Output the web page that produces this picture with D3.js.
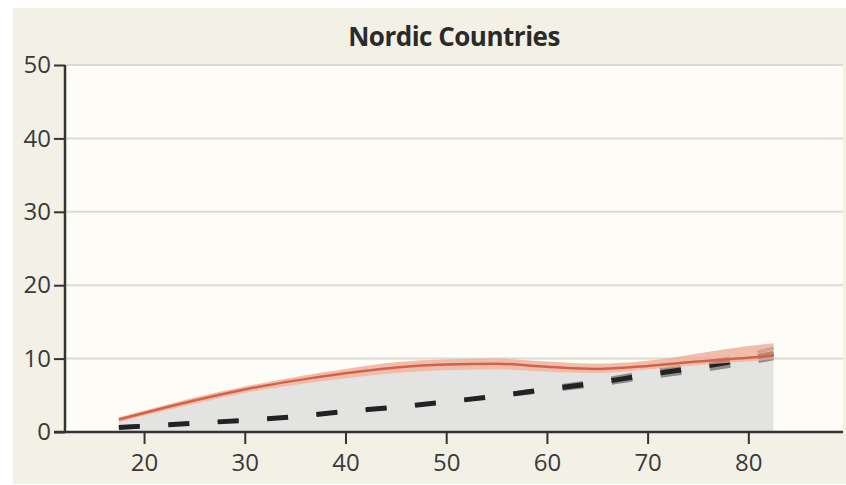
<!DOCTYPE html>
<html>
<head>
<meta charset="utf-8">
<script src="https://cdn.jsdelivr.net/npm/d3@7"></script>
<style>
  body { margin: 0; background: #fff; }
  svg { display: block; font-family: "Open Sans", "Lato", sans-serif; }
</style>
</head>
<body>
<div id="chart"></div>
<script>
// ages (years) and percentages
var ages       = [17.5, 20, 25, 30, 35, 40, 45, 50, 55, 60, 65, 70, 75, 80, 82.5];
var observed   = [1.7, 2.6, 4.3, 5.8, 7.0, 8.0, 8.8, 9.2, 9.3, 8.9, 8.6, 9.0, 9.6, 10.1, 10.4];
var obsLower   = [1.3, 2.2, 3.8, 5.3, 6.4, 7.3, 8.0, 8.4, 8.5, 8.2, 8.0, 8.5, 9.1, 9.6, 9.9];
var obsUpper   = [2.0, 2.9, 4.7, 6.2, 7.5, 8.6, 9.5, 9.9, 10.0, 9.6, 9.3, 9.7, 10.7, 11.7, 12.1];
var expected   = [0.6, 0.8, 1.2, 1.6, 2.1, 2.8, 3.4, 4.1, 4.9, 5.8, 6.7, 7.8, 8.8, 10.0, 10.7];
var expLower   = [0.6, 0.8, 1.2, 1.6, 2.1, 2.8, 3.4, 4.1, 4.8, 5.6, 6.4, 7.4, 8.3, 9.4, 10.0];
var expUpper   = [0.6, 0.8, 1.2, 1.6, 2.1, 2.8, 3.4, 4.1, 5.0, 6.0, 7.0, 8.2, 9.3, 10.6, 11.4];
var xTicks = [20, 30, 40, 50, 60, 70, 80];
var yTicks = [0, 10, 20, 30, 40, 50];
var title = "Nordic Countries";

var width = 846, height = 485;
var plot = {left: 65, right: 843, top: 65, bottom: 432};

var svg = d3.select("#chart").append("svg")
    .attr("width", width)
    .attr("height", height);

// panel backgrounds
svg.append("rect")
    .attr("x", 13).attr("y", 8)
    .attr("width", width - 13).attr("height", 476)
    .attr("fill", "#f3f1e5");
svg.append("rect")
    .attr("x", plot.left).attr("y", plot.top)
    .attr("width", plot.right - plot.left).attr("height", plot.bottom - plot.top)
    .attr("fill", "#fdfcf7");

var x = d3.scaleLinear().domain([12.15, 89.4]).range([plot.left, plot.right]);
var y = d3.scaleLinear().domain([0, 50]).range([plot.bottom, plot.top]);

// gridlines
svg.append("g").attr("class", "grid")
  .selectAll("line")
  .data(yTicks.filter(function(d) { return d > 0; }))
  .enter().append("line")
    .attr("x1", plot.left).attr("x2", plot.right)
    .attr("y1", function(d) { return y(d); })
    .attr("y2", function(d) { return y(d); })
    .attr("stroke", "#dcdad2")
    .attr("stroke-width", 2);

var rows = ages.map(function(a, i) {
    return {age: a, obs: observed[i], lo: obsLower[i], hi: obsUpper[i],
            exp: expected[i], elo: expLower[i], ehi: expUpper[i]};
});

var curve = d3.curveMonotoneX;

// gray area under observed curve
svg.append("path")
    .datum(rows)
    .attr("fill", "#e3e3e1")
    .attr("d", d3.area().curve(curve)
        .x(function(d) { return x(d.age); })
        .y0(y(0))
        .y1(function(d) { return y(d.lo); }));

// expected (dashed) with its band
var lineOf = function(key) {
    return d3.line().curve(curve)
        .x(function(d) { return x(d.age); })
        .y(function(d) { return y(d[key]); });
};
["elo", "ehi"].forEach(function(k) {
    svg.append("path")
        .datum(rows)
        .attr("fill", "none")
        .attr("stroke", "#8d8d8b")
        .attr("stroke-width", 3.5)
        .attr("stroke-dasharray", "21,28.5")
        .attr("d", lineOf(k));
});
svg.append("path")
    .datum(rows)
    .attr("fill", "none")
    .attr("stroke", "#222")
    .attr("stroke-width", 5)
    .attr("stroke-dasharray", "21,28.5")
    .attr("d", lineOf("exp"));

// observed band and line
svg.append("path")
    .datum(rows)
    .attr("fill", "#eca891")
    .attr("fill-opacity", 0.75)
    .attr("d", d3.area().curve(curve)
        .x(function(d) { return x(d.age); })
        .y0(function(d) { return y(d.lo); })
        .y1(function(d) { return y(d.hi); }));
svg.append("path")
    .datum(rows)
    .attr("fill", "none")
    .attr("stroke", "#d4624a")
    .attr("stroke-width", 2.5)
    .attr("d", lineOf("obs"));

// axes
var yAxis = svg.append("g")
    .attr("transform", "translate(" + plot.left + ",0)")
    .call(d3.axisLeft(y).tickValues(yTicks).tickSize(11).tickPadding(3));
var xAxis = svg.append("g")
    .attr("transform", "translate(0," + plot.bottom + ")")
    .call(d3.axisBottom(x).tickValues(xTicks).tickSize(12).tickPadding(10));

[yAxis, xAxis].forEach(function(ax) {
    ax.select(".domain").remove();
    ax.selectAll(".tick line").attr("stroke", "#333").attr("stroke-width", 2);
    ax.selectAll(".tick text")
        .attr("fill", "#3a3a3a")
        .style("font-size", "24px")
        .style("font-family", "'Open Sans', sans-serif");
});

svg.append("line")
    .attr("x1", plot.left).attr("x2", plot.left)
    .attr("y1", plot.top).attr("y2", plot.bottom + 1)
    .attr("stroke", "#333").attr("stroke-width", 2.5);
svg.append("line")
    .attr("x1", plot.left - 11).attr("x2", plot.right)
    .attr("y1", plot.bottom).attr("y2", plot.bottom)
    .attr("stroke", "#333").attr("stroke-width", 2.5);

// title
svg.append("text")
    .attr("x", 454).attr("y", 46)
    .attr("text-anchor", "middle")
    .attr("fill", "#2a2a2a")
    .style("font-size", "26px")
    .style("font-weight", "bold")
    .style("letter-spacing", "-0.5px")
    .text(title);
</script>
</body>
</html>
